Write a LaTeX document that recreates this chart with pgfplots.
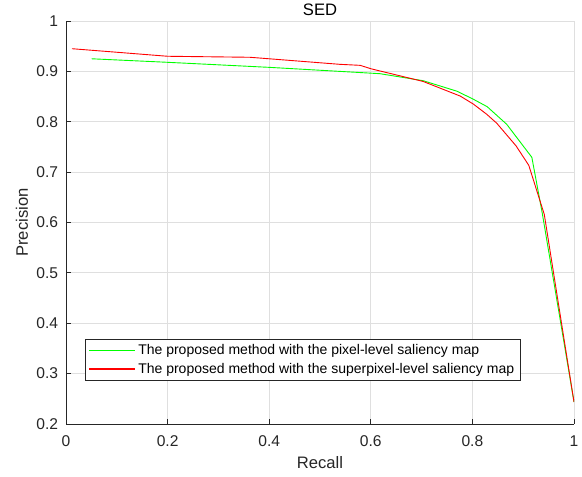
\documentclass[border=0pt]{standalone}
\usepackage{pgfplots}
\pgfplotsset{compat=1.18}
\usepackage{fontspec}
\setmainfont{Liberation Sans}
\definecolor{axgray}{RGB}{38,38,38}
\definecolor{gridgray}{RGB}{223,223,223}
\definecolor{mygreen}{RGB}{0,255,0}
\definecolor{myred}{RGB}{255,0,0}
\begin{document}
\begin{tikzpicture}
\useasboundingbox (-66bp,-53bp) rectangle (516bp,424bp);
\begin{axis}[
  at={(0,0)}, anchor=south west,
  scale only axis, width=508bp, height=403bp,
  xmin=0, xmax=1, ymin=0.2, ymax=1,
  axis x line*=bottom, axis y line*=left,
  axis line style={axgray, line width=0.8bp},
  xtick={0,0.2,0.4,0.6,0.8,1},
  ytick={0.2,0.3,0.4,0.5,0.6,0.7,0.8,0.9,1},
  tick align=inside,
  major tick length=5bp,
  tick style={axgray, line width=0.8bp},
  grid=major,
  major grid style={gridgray, line width=0.8bp},
  /pgf/number format/assume math mode=true,
  /pgf/number format/fixed,
  ticklabel style={font=\fontsize{15.6bp}{18bp}\selectfont, text=axgray, inner sep=0pt},
  xticklabel style={anchor=center, yshift=-16.8bp},
  yticklabel style={anchor=east, xshift=-7.7bp},
  every axis title shift=0pt,
  title={SED},
  title style={at={(axis description cs:0.5,1.0266)}, anchor=center, font=\fontsize{16.6bp}{19bp}\selectfont, text=black, inner sep=0pt},
  xlabel={Recall},
  xlabel style={at={(axis description cs:0.5,-0.0968)}, anchor=center, font=\fontsize{16.6bp}{19bp}\selectfont, text=axgray, inner sep=0pt},
  ylabel={Precision},
  ylabel style={at={(axis description cs:-0.0866,0.5)}, anchor=center, font=\fontsize{16.6bp}{19bp}\selectfont, text=axgray, inner sep=0pt},
  legend image code/.code={\draw[#1, line width=1.1bp] (0bp,0bp) -- (46bp,0bp);},
  legend cell align=left,
  legend style={at={(0.0374,0.211)}, anchor=north west, draw=axgray, line width=0.6bp, fill=white,
    font=\fontsize{14bp}{16bp}\selectfont, text=black, inner xsep=3.5bp, inner ysep=1.5bp, row sep=0bp,
    nodes={inner xsep=2.4bp, inner ysep=3.6bp}},
]
\addplot[color=mygreen, line width=0.9bp] coordinates {
(0.0506,0.925) (0.2,0.918) (0.4,0.908) (0.539,0.900) (0.618,0.8954) (0.703,0.8815)
(0.770,0.8605) (0.802,0.8446) (0.829,0.830) (0.8675,0.795) (0.917,0.7294)
(0.9376,0.618) (1.0,0.2437)
};
\addlegendentry{The proposed method with the pixel-level saliency map}
\addplot[color=myred, line width=0.9bp] coordinates {
(0.0118,0.945) (0.2,0.930) (0.362,0.928) (0.4,0.925) (0.539,0.914) (0.579,0.912)
(0.601,0.905) (0.703,0.880) (0.776,0.851) (0.802,0.835) (0.828,0.815) (0.848,0.797)
(0.886,0.752) (0.911,0.7135) (0.9415,0.616) (1.0,0.2437)
};
\addlegendentry{The proposed method with the superpixel-level saliency map}
\end{axis}
\end{tikzpicture}
\end{document}
